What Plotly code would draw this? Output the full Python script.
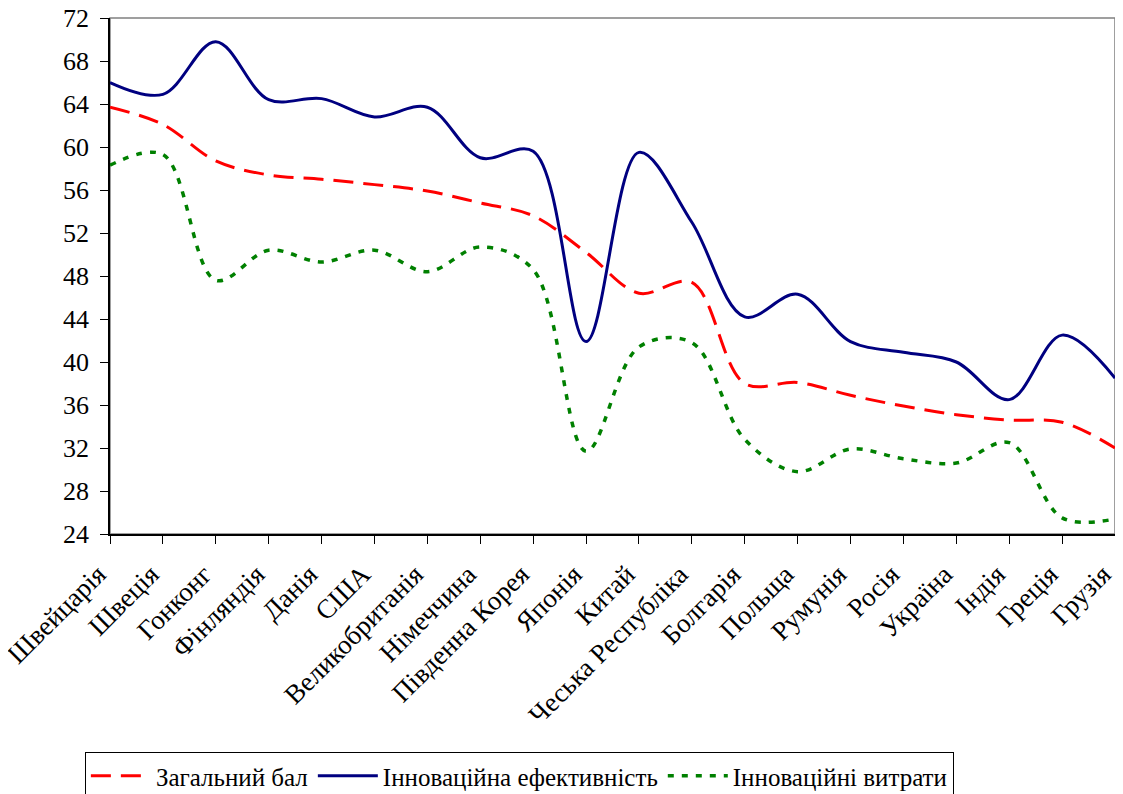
import plotly.graph_objects as go

# Countries along the x axis
countries = ["Швейцарія", "Швеція", "Гонконг", "Фінляндія", "Данія", "США",
             "Великобританія", "Німеччина", "Південна Корея", "Японія", "Китай",
             "Чеська Республіка", "Болгарія", "Польща", "Румунія", "Росія",
             "Україна", "Індія", "Греція", "Грузія"]

# Series values
total_score = [63.7, 62.1, 58.7, 57.4, 57.0, 56.5, 55.9, 54.8, 53.6, 50.2,
               46.4, 47.4, 38.0, 38.1, 36.9, 35.9, 35.1, 34.6, 34.4, 32.0]
innov_output = [66.0, 64.9, 69.8, 64.4, 64.5, 62.8, 63.7, 59.0, 59.6, 41.9,
                59.5, 53.0, 44.2, 46.3, 41.9, 40.9, 40.0, 36.5, 42.5, 38.5]
innov_input = [58.3, 59.3, 47.6, 50.4, 49.3, 50.4, 48.4, 50.7, 48.6, 31.7,
               41.4, 41.8, 32.8, 29.8, 31.9, 31.0, 30.6, 32.5, 25.5, 25.4]

y_ticks = list(range(24, 73, 4))

font = "Liberation Serif"

fig = go.Figure()

fig.add_trace(go.Scatter(
    x=countries, y=total_score, name="Загальний бал", mode="lines",
    line=dict(color="#FF0000", width=3, dash="20px,10px", shape="spline", smoothing=1.0),
))
fig.add_trace(go.Scatter(
    x=countries, y=innov_output, name="Інноваційна ефективність", mode="lines",
    line=dict(color="#000080", width=3, shape="spline", smoothing=1.0),
))
fig.add_trace(go.Scatter(
    x=countries, y=innov_input, name="Інноваційні витрати", mode="lines",
    line=dict(color="#008000", width=3.5, dash="6px,8px", shape="spline", smoothing=1.0),
))

# the page body adds an 8px offset, so margins are shifted to compensate;
# the figure is a bit taller than the window so the legend (cut at the
# bottom, as in the original) does not push the margins
fig.update_layout(
    width=1123, height=810,
    margin=dict(l=102, r=16, t=10, b=284),
    paper_bgcolor="white", plot_bgcolor="white",
    font=dict(family=font, size=24, color="black"),
    showlegend=True,
    legend=dict(
        orientation="h", x=-0.025, xanchor="left", y=-0.4225, yanchor="top",
        bordercolor="black", borderwidth=1, font=dict(family=font, size=25),
        itemwidth=60, tracegroupgap=0,
    ),
    shapes=[dict(type="rect", xref="paper", yref="paper", x0=0, y0=0, x1=1, y1=1,
                 line=dict(color="#808080", width=1.5), layer="below")],
)

fig.update_xaxes(
    type="category", range=[0, len(countries) - 1], tickangle=-45, automargin=False,
    showline=True, linecolor="black", linewidth=1.5,
    ticks="outside", ticklen=8, tickcolor="black", tickwidth=1,
    ticklabelshift=-12, ticklabelstandoff=4, ticklabeloverflow="allow",
    showgrid=False, zeroline=False, tickfont=dict(family=font, size=27),
)
fig.update_yaxes(
    range=[24, 72], tickvals=y_ticks, automargin=False,
    showline=True, linecolor="black", linewidth=1.5,
    ticks="outside", ticklen=8, tickcolor="black", tickwidth=1,
    ticklabelstandoff=6, ticklabeloverflow="allow",
    showgrid=False, zeroline=False, tickfont=dict(family=font, size=26),
)

fig.write_html("out.html")
